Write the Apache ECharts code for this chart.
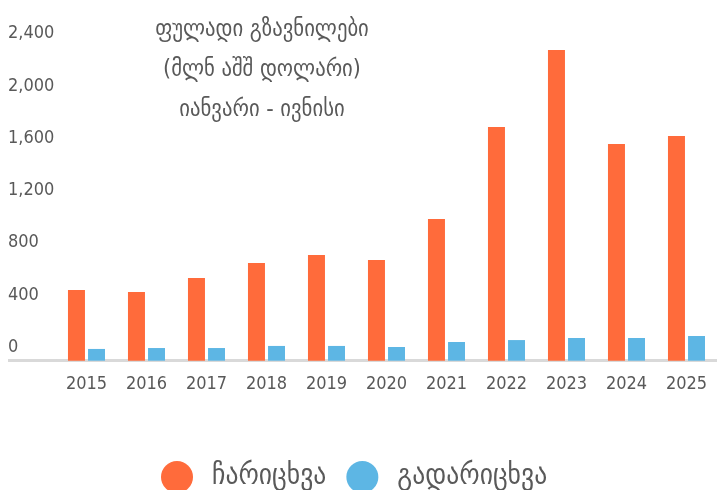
<!DOCTYPE html>
<html>
<head>
<meta charset="utf-8">
<script src="https://cdn.jsdelivr.net/npm/echarts@6/dist/echarts.min.js"></script>
<style>html,body{margin:0;padding:0;background:#fff}#c{width:717px;height:490px}</style>
</head>
<body>
<div id="c"></div>
<script>
var years = ['2015','2016','2017','2018','2019','2020','2021','2022','2023','2024','2025'];
var inflow = [541, 526, 633, 748, 809, 771, 1085, 1789, 2379, 1659, 1721];
var outflow = [90, 97, 97, 113, 113, 105, 143, 158, 174, 174, 189];
var seriesNames = ['ჩარიცხვა', 'გადარიცხვა'];
var titleLines = ['ფულადი გზავნილები', '(მლნ აშშ დოლარი)', 'იანვარი - ივნისი'];

var chart = echarts.init(document.getElementById('c'), null, {renderer: 'canvas'});
var numFont = '"DejaVu Sans Condensed", "DejaVu Sans", sans-serif';
var geoFont = '"DejaVu Sans Condensed", "DejaVu Sans", sans-serif';
chart.setOption({
  animation: false,
  backgroundColor: '#ffffff',
  title: {
    text: titleLines.join('\n'),
    left: 257, top: 5, textAlign: 'center',
    textStyle: {color: '#595959', fontFamily: geoFont, fontWeight: 'normal', fontSize: 23, lineHeight: 40}
  },
  legend: {
    data: seriesNames,
    left: 156, top: 456,
    icon: 'circle', itemWidth: 32, itemHeight: 32, itemGap: 20,
    textStyle: {color: '#595959', fontFamily: geoFont, fontSize: 28.5, padding: [0, 0, 0, 14]}
  },
  grid: {left: 56.5, right: 0.5, top: 47.3, bottom: 129.3},
  xAxis: {
    type: 'category', data: years,
    axisLine: {lineStyle: {color: '#D9D9D9', width: 3}},
    axisTick: {show: false},
    axisLabel: {color: '#595959', fontFamily: numFont, fontSize: 18, margin: 15, interval: 0}
  },
  yAxis: {
    type: 'value', min: 0, max: 2400, interval: 400,
    splitLine: {show: false},
    axisLine: {show: false}, axisTick: {show: false},
    axisLabel: {
      color: '#595959', fontFamily: numFont, fontSize: 18, align: 'left', margin: 48.5,
      verticalAlign: 'bottom', lineHeight: 27,
      formatter: function (v) { return v.toLocaleString('en-US'); }
    }
  },
  graphic: [{
    type: 'line', silent: true,
    shape: {x1: 8, y1: 360.5, x2: 57, y2: 360.5},
    style: {stroke: '#D9D9D9', lineWidth: 3}
  }],
  series: [
    {name: seriesNames[0], type: 'bar', data: inflow, barWidth: 17, barGap: '18%', itemStyle: {color: '#FF6B3B'}},
    {name: seriesNames[1], type: 'bar', data: outflow, barWidth: 17, itemStyle: {color: '#5DB6E4'}}
  ]
});
</script>
</body>
</html>
